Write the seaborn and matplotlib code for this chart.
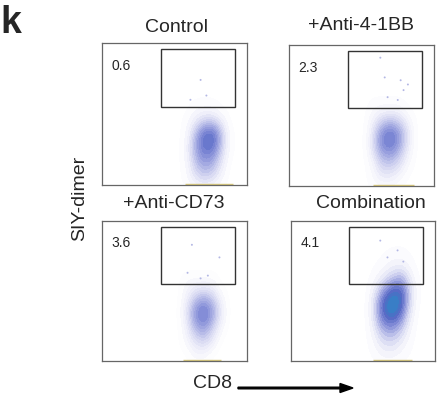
import numpy as np
import pandas as pd
import matplotlib
matplotlib.use("Agg")
import matplotlib.pyplot as plt
import seaborn as sns
from matplotlib.colors import LinearSegmentedColormap, ListedColormap
from matplotlib.patches import Rectangle

# groupes et % dans la porte SIY-dimer+
groups = ["Control", "+Anti-4-1BB", "+Anti-CD73", "Combination"]
gate_pct = ["0.6", "2.3", "3.6", "4.1"]

# grille de lecture (CD8 en colonnes, SIY-dimer en lignes, de haut en bas)
cd8_bins = [0.58, 0.64, 0.70, 0.76, 0.82, 0.88]
siy_bins = [0.75, 0.65, 0.55, 0.45, 0.35, 0.25, 0.15, 0.05]

# nombre approximatif d'evenements par case
counts_control = [
    [0, 0, 0, 0, 0, 0],
    [0, 0, 0, 0, 0, 0],
    [0, 1, 1, 1, 0, 0],
    [1, 3, 5, 5, 3, 0],
    [1, 7, 14, 16, 8, 1],
    [2, 8, 12, 12, 6, 1],
    [1, 6, 9, 8, 4, 0],
    [1, 4, 6, 5, 2, 0],
]
counts_4_1bb = [
    [0, 0, 0, 0, 0, 0],
    [0, 0, 0, 0, 0, 0],
    [1, 1, 1, 1, 0, 0],
    [2, 4, 5, 4, 2, 0],
    [3, 8, 10, 7, 3, 0],
    [3, 6, 7, 5, 2, 0],
    [1, 4, 4, 3, 1, 0],
    [1, 2, 2, 1, 0, 0],
]
counts_cd73 = [
    [0, 0, 0, 0, 0, 0],
    [0, 0, 0, 0, 0, 0],
    [1, 1, 1, 1, 0, 0],
    [1, 3, 4, 3, 1, 0],
    [2, 5, 7, 5, 2, 0],
    [1, 4, 5, 3, 1, 0],
    [1, 2, 3, 2, 0, 0],
    [0, 1, 1, 0, 0, 0],
]
counts_combo = [
    [0, 1, 2, 2, 1, 0],
    [1, 2, 4, 5, 2, 0],
    [3, 8, 14, 20, 8, 1],
    [8, 22, 30, 28, 10, 1],
    [8, 24, 30, 22, 7, 0],
    [5, 14, 16, 12, 4, 0],
    [3, 8, 9, 6, 2, 0],
    [1, 3, 4, 2, 1, 0],
]
all_counts = [counts_control, counts_4_1bb, counts_cd73, counts_combo]

# evenements isoles dans la porte
gate_cd8 = [
    [0.61, 0.72, 0.68],
    [0.63, 0.66, 0.77, 0.79, 0.75, 0.68, 0.82],
    [0.62, 0.81, 0.59, 0.68, 0.73],
    [0.74, 0.67, 0.78, 0.62],
]
gate_siy = [
    [0.60, 0.63, 0.74],
    [0.91, 0.77, 0.75, 0.68, 0.61, 0.63, 0.72],
    [0.83, 0.74, 0.63, 0.59, 0.61],
    [0.79, 0.74, 0.71, 0.86],
]

# evenements colles en bas de l'axe (debut, fin en CD8)
floor_start = [0.57, 0.58, 0.56, 0.57]
floor_end = [0.90, 0.86, 0.82, 0.84]

sns.set_style("white")
plt.rcParams["font.family"] = ["Liberation Sans", "DejaVu Sans"]

fig = plt.figure(figsize=(4.38, 3.97), dpi=100)
W, H = 438, 397
boxes = [(102, 43, 145, 142), (289, 45, 145, 141), (102, 221, 145, 140), (291, 221, 144, 140)]
title_pos = [(177, 27), (361, 25), (174, 203), (371, 204)]

flow = LinearSegmentedColormap.from_list(
    "flow", ["#ffffff", "#f0f0fa", "#d3d5f1", "#a9aee3", "#7e88d5", "#5468c4", "#3284c6"])
max_tot = max(np.sum(c) for c in all_counts)

for i, counts in enumerate(all_counts):
    x0, y0, w, h = boxes[i]
    ax = fig.add_axes([x0 / W, 1 - (y0 + h) / H, w / W, h / H])

    rows = []
    for r, siy in enumerate(siy_bins):
        for c, cd8 in enumerate(cd8_bins):
            if counts[r][c] > 0:
                rows.append({"CD8": cd8, "SIY": siy, "n": counts[r][c]})
    df = pd.DataFrame(rows)

    frac = 0.6 + 0.4 * np.sum(counts) / max_tot
    cmap = ListedColormap(flow(np.linspace(0, frac, 256)))
    sns.kdeplot(data=df, x="CD8", y="SIY", weights="n", fill=True, cmap=cmap,
                levels=14, thresh=0.03, bw_adjust=0.9, ax=ax)

    sns.scatterplot(x=gate_cd8[i], y=gate_siy[i], s=2, color="#b3b7e4",
                    edgecolor="none", ax=ax)
    ax.hlines(0.006, floor_start[i], floor_end[i], color="#d9c97c", lw=1.0)

    ax.add_patch(Rectangle((0.405, 0.55), 0.515, 0.405, fill=False,
                           edgecolor="#333333", lw=1.0))
    ax.text(0.065, 0.84, gate_pct[i], fontsize=10, ha="left", va="center")

    ax.set_xlim(0, 1)
    ax.set_ylim(0, 1)
    ax.set_xticks([])
    ax.set_yticks([])
    ax.set_xlabel("")
    ax.set_ylabel("")
    for s in ax.spines.values():
        s.set_color("#666666")
        s.set_linewidth(0.9)

    tx, ty = title_pos[i]
    fig.text(tx / W, 1 - ty / H, groups[i], fontsize=14, ha="center", va="center")

fig.text(0.0, 1 - 33 / H, "k", fontsize=27, fontweight="bold", ha="left", va="baseline")
fig.text(80 / W, 1 - 198 / H, "SIY-dimer", fontsize=14, rotation=90,
         ha="center", va="center")
fig.text(193 / W, 1 - 384 / H, "CD8", fontsize=14, ha="left", va="center")
fig.patches.append(matplotlib.patches.FancyArrow(
    238 / W, 1 - 388 / H, 115 / W, 0, width=1.6 / H, head_width=9 / H,
    head_length=13 / W, length_includes_head=True, color="black",
    transform=fig.transFigure, figure=fig))

fig.savefig("out.png", dpi=100)
